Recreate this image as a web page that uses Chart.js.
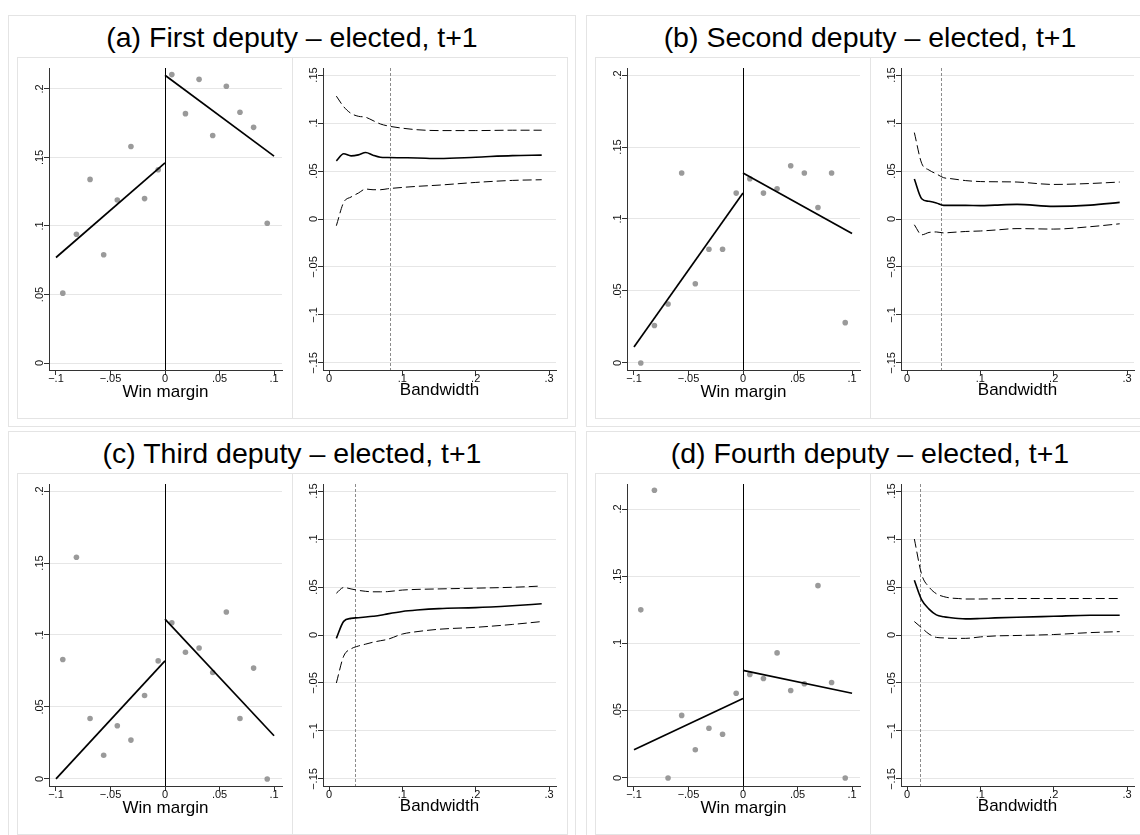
<!DOCTYPE html>
<html>
<head>
<meta charset="utf-8">
<script src="https://cdn.jsdelivr.net/npm/chart.js@4.4.1/dist/chart.umd.min.js"></script>
<style>
    body { margin: 0; background: #fff; }
    #wrap { position: relative; width: 1140px; height: 835px; overflow: hidden; background: #fff;
            font-family: 'Liberation Sans', Arial, sans-serif; }
    .panel { position: absolute; width: 566px; height: 410px; border: 1px solid #e4e4e4; }
    .box { position: absolute; width: 274px; height: 360px; border: 1px solid #e4e4e4; }
    .title { position: absolute; width: 568px; text-align: center; font-size: 28.5px; line-height: 29px; color: #000; white-space: nowrap; }
    canvas { position: absolute; }
</style>
</head>
<body>
<div id="wrap"></div>
<script>
// --- data ---
const titles = [
    '(a) First deputy \u2013 elected, t+1',
    '(b) Second deputy \u2013 elected, t+1',
    '(c) Third deputy \u2013 elected, t+1',
    '(d) Fourth deputy \u2013 elected, t+1'
];

// bin midpoints of the win margin
const binMid = [-0.09375, -0.08125, -0.06875, -0.05625, -0.04375, -0.03125, -0.01875, -0.00625,
                0.00625, 0.01875, 0.03125, 0.04375, 0.05625, 0.06875, 0.08125, 0.09375];

const binsA = [0.051, 0.094, 0.134, 0.079, 0.119, 0.158, 0.120, 0.141, 0.2105, 0.182, 0.207, 0.166, 0.202, 0.183, 0.172, 0.102];
const binsB = [0.0, 0.026, 0.041, 0.132, 0.055, 0.079, 0.079, 0.118, 0.128, 0.118, 0.121, 0.137, 0.132, 0.108, 0.132, 0.028];
const binsC = [0.083, 0.154, 0.042, 0.0165, 0.037, 0.027, 0.058, 0.082, 0.1085, 0.088, 0.091, 0.074, 0.116, 0.042, 0.077, 0.0];
const binsD = [0.125, 0.214, 0.0, 0.0465, 0.021, 0.037, 0.0325, 0.063, 0.077, 0.074, 0.093, 0.065, 0.070, 0.143, 0.071, 0.0];

// linear fits on each side of the cutoff
const cutoff = 0;
const fitLeftX = [-0.1, 0];
const fitRightX = [0, 0.1];
const fitLeftA = [0.077, 0.146], fitRightA = [0.210, 0.151];
const fitLeftB = [0.011, 0.118], fitRightB = [0.132, 0.090];
const fitLeftC = [0.0, 0.082], fitRightC = [0.111, 0.030];
const fitLeftD = [0.021, 0.059], fitRightD = [0.080, 0.063];

// estimates by bandwidth
const bandwidths = [0.01, 0.02, 0.03, 0.04, 0.05, 0.06, 0.07, 0.08, 0.1, 0.12, 0.15, 0.2, 0.25, 0.29];
const estA   = [0.0606, 0.068, 0.0658, 0.0668, 0.0693, 0.0665, 0.0644, 0.064, 0.0638, 0.0636, 0.063, 0.0644, 0.066, 0.0665];
const upperA = [0.128, 0.117, 0.110, 0.107, 0.106, 0.1025, 0.099, 0.097, 0.0946, 0.093, 0.0921, 0.0921, 0.0925, 0.0925];
const lowerA = [-0.007, 0.0173, 0.0229, 0.027, 0.0312, 0.0305, 0.0305, 0.0315, 0.0329, 0.034, 0.0353, 0.0381, 0.0402, 0.0409];
const estB   = [0.0416, 0.0211, 0.0184, 0.0166, 0.0142, 0.0142, 0.0142, 0.0142, 0.0139, 0.0145, 0.0152, 0.0132, 0.0145, 0.0173];
const upperB = [0.09, 0.058, 0.051, 0.047, 0.043, 0.042, 0.041, 0.040, 0.039, 0.0388, 0.0385, 0.036, 0.037, 0.0385];
const lowerB = [-0.006, -0.0165, -0.014, -0.0135, -0.0145, -0.014, -0.0135, -0.013, -0.0125, -0.0115, -0.01, -0.0105, -0.008, -0.005];
const estC   = [-0.0035, 0.0142, 0.0173, 0.018, 0.0187, 0.0195, 0.0205, 0.022, 0.0245, 0.026, 0.0275, 0.0285, 0.0305, 0.0325];
const upperC = [0.0435, 0.0495, 0.048, 0.0465, 0.0455, 0.045, 0.045, 0.0452, 0.0468, 0.0475, 0.048, 0.0488, 0.0497, 0.051];
const lowerC = [-0.05, -0.022, -0.0145, -0.0115, -0.0095, -0.0075, -0.006, -0.0045, 0.001, 0.0035, 0.006, 0.008, 0.011, 0.014];
const estD   = [0.057, 0.0365, 0.027, 0.021, 0.019, 0.018, 0.0172, 0.0168, 0.0172, 0.0178, 0.0185, 0.0195, 0.0205, 0.0205];
const upperD = [0.1, 0.063, 0.05, 0.043, 0.04, 0.0385, 0.038, 0.0375, 0.0375, 0.0378, 0.038, 0.038, 0.038, 0.038];
const lowerD = [0.014, 0.0075, 0.001, -0.0025, -0.003, -0.0035, -0.0035, -0.0035, -0.002, -0.001, -0.0005, 0.0005, 0.0025, 0.0035];

// chosen bandwidth (grey dashed line)
const optBw = [0.083, 0.047, 0.035, 0.018];

// tick labels
const marginTicksX = [-0.1, -0.05, 0, 0.05, 0.1];
const marginTicksY = [0, 0.05, 0.1, 0.15, 0.2];
const bwTicksX = [0, 0.1, 0.2, 0.3];
const bwTicksY = [-0.15, -0.1, -0.05, 0, 0.05, 0.1, 0.15];

const FONT = "'Liberation Sans', Arial, sans-serif";
Chart.defaults.font.family = FONT;
Chart.defaults.color = '#111';

// Stata style labels: .05, −.1, 0
function fmt(v) {
    if (Math.abs(v) < 1e-9) return '0';
    const s = String(+Math.abs(v).toFixed(3)).replace(/^0/, '');
    return (v < 0 ? '\u2212' : '') + s;
}

const refLine = {
    id: 'refLine',
    beforeDatasetsDraw(chart, args, opts) {
        if (opts.x === undefined) return;
        const { ctx, chartArea: a, scales: { x } } = chart;
        const px = Math.round(x.getPixelForValue(opts.x)) + 0.5;
        ctx.save();
        ctx.strokeStyle = opts.color;
        ctx.lineWidth = 1;
        ctx.setLineDash(opts.dash || []);
        ctx.beginPath();
        ctx.moveTo(px, a.top);
        ctx.lineTo(px, a.bottom);
        ctx.stroke();
        ctx.restore();
    }
};

// rotated y tick labels, read bottom to top
const yLabels = {
    id: 'yLabels',
    afterDraw(chart) {
        const { ctx, scales: { y } } = chart;
        ctx.save();
        ctx.font = '11px ' + FONT;
        ctx.fillStyle = '#111';
        ctx.textAlign = 'center';
        ctx.textBaseline = 'alphabetic';
        y.ticks.forEach(t => {
            ctx.save();
            ctx.translate(y.right - 6, y.getPixelForValue(t.value));
            ctx.rotate(-Math.PI / 2);
            ctx.fillText(fmt(t.value), 0, 0);
            ctx.restore();
        });
        ctx.restore();
    }
};

function axes(xr, yr, xt, yt, yWidth, xTitle, titlePad) {
    return {
        x: {
            type: 'linear', min: xr[0], max: xr[1],
            afterBuildTicks: s => { s.ticks = xt.map(v => ({ value: v })); },
            afterFit: s => { s.height = 48; },
            ticks: { callback: v => fmt(v), font: { size: 11 }, color: '#111', padding: -2.5, autoSkip: false, maxRotation: 0 },
            grid: { drawOnChartArea: false, drawTicks: true, tickLength: 5, tickColor: '#333' },
            border: { display: true, color: '#333', width: 1 },
            title: { display: true, text: xTitle, font: { size: 17 }, color: '#000', padding: { top: 0, bottom: titlePad } }
        },
        y: {
            type: 'linear', min: yr[0], max: yr[1],
            afterBuildTicks: s => { s.ticks = yt.map(v => ({ value: v })); },
            afterFit: s => { s.width = yWidth; },
            ticks: { display: false },
            grid: { color: '#e6e6e6', lineWidth: 1, drawTicks: true, tickLength: 5, tickColor: '#333' },
            border: { display: true, color: '#333', width: 1 }
        }
    };
}

function marginChart(canvas, p) {
    new Chart(canvas, {
        type: 'scatter',
        data: {
            datasets: [
                { data: fitLeftX.map((x, i) => ({ x, y: p.fitL[i] })), showLine: true, borderColor: '#000', borderWidth: 1.7, pointRadius: 0, order: 0 },
                { data: fitRightX.map((x, i) => ({ x, y: p.fitR[i] })), showLine: true, borderColor: '#000', borderWidth: 1.7, pointRadius: 0, order: 0 },
                { data: binMid.map((x, i) => ({ x, y: p.bins[i] })), showLine: false, pointRadius: 2.8,
                  pointBackgroundColor: '#9a9a9a', pointBorderWidth: 0, order: 1 }
            ]
        },
        options: {
            responsive: false, animation: false, devicePixelRatio: 1,
            layout: { padding: { left: 0, top: 11, right: 10, bottom: 0 } },
            plugins: { legend: { display: false }, tooltip: { enabled: false },
                       refLine: { x: cutoff, color: '#000' } },
            scales: axes([-0.1064, 0.1073], p.yRange, marginTicksX, marginTicksY, 32, 'Win margin', 15.5)
        },
        plugins: [refLine, yLabels]
    });
}

function bandwidthChart(canvas, p) {
    const line = (vals, dash, w) => ({
        data: bandwidths.map((x, i) => ({ x, y: vals[i] })), showLine: true, borderColor: '#000',
        borderWidth: w, borderDash: dash, pointRadius: 0, tension: 0.3, cubicInterpolationMode: 'monotone'
    });
    new Chart(canvas, {
        type: 'scatter',
        data: { datasets: [line(p.est, [], 1.6), line(p.up, [9, 4], 1), line(p.lo, [9, 4], 1)] },
        options: {
            responsive: false, animation: false, devicePixelRatio: 1,
            layout: { padding: { left: 0, top: 11, right: 11, bottom: 0 } },
            plugins: { legend: { display: false }, tooltip: { enabled: false },
                       refLine: { x: p.opt, color: '#8c8c8c', dash: [3, 2] } },
            scales: axes([-0.0082, 0.3095], [-0.1573, 0.1573], bwTicksX, bwTicksY, 31, 'Bandwidth', 17)
        },
        plugins: [refLine, yLabels]
    });
}

const panels = [
    { ox: 0,   oy: 0,   bins: binsA, fitL: fitLeftA, fitR: fitRightA, yRange: [-0.0051, 0.2153], est: estA, up: upperA, lo: lowerA, opt: optBw[0] },
    { ox: 578, oy: 0,   bins: binsB, fitL: fitLeftB, fitR: fitRightB, yRange: [-0.0049, 0.2049], est: estB, up: upperB, lo: lowerB, opt: optBw[1] },
    { ox: 0,   oy: 416, bins: binsC, fitL: fitLeftC, fitR: fitRightC, yRange: [-0.0049, 0.2049], est: estC, up: upperC, lo: lowerC, opt: optBw[2] },
    { ox: 578, oy: 416, bins: binsD, fitL: fitLeftD, fitR: fitRightD, yRange: [-0.006, 0.2186],  est: estD, up: upperD, lo: lowerD, opt: optBw[3] }
];

const wrap = document.getElementById('wrap');
function el(tag, cls, left, top) {
    const e = document.createElement(tag);
    if (cls) e.className = cls;
    e.style.left = left + 'px';
    e.style.top = top + 'px';
    wrap.appendChild(e);
    return e;
}

panels.forEach((p, i) => {
    el('div', 'panel', p.ox + 8, p.oy + 15);
    el('div', 'box', p.ox + 17, p.oy + 57);
    el('div', 'box', p.ox + 292, p.oy + 57);
    const t = el('div', 'title', p.ox + 8, p.oy + 23);
    t.textContent = titles[i];

    const c1 = el('canvas', null, p.ox + 17, p.oy + 57);
    c1.width = 275; c1.height = 361;
    const c2 = el('canvas', null, p.ox + 292, p.oy + 57);
    c2.width = 275; c2.height = 361;
    marginChart(c1, p);
    bandwidthChart(c2, p);
});
</script>
</body>
</html>
